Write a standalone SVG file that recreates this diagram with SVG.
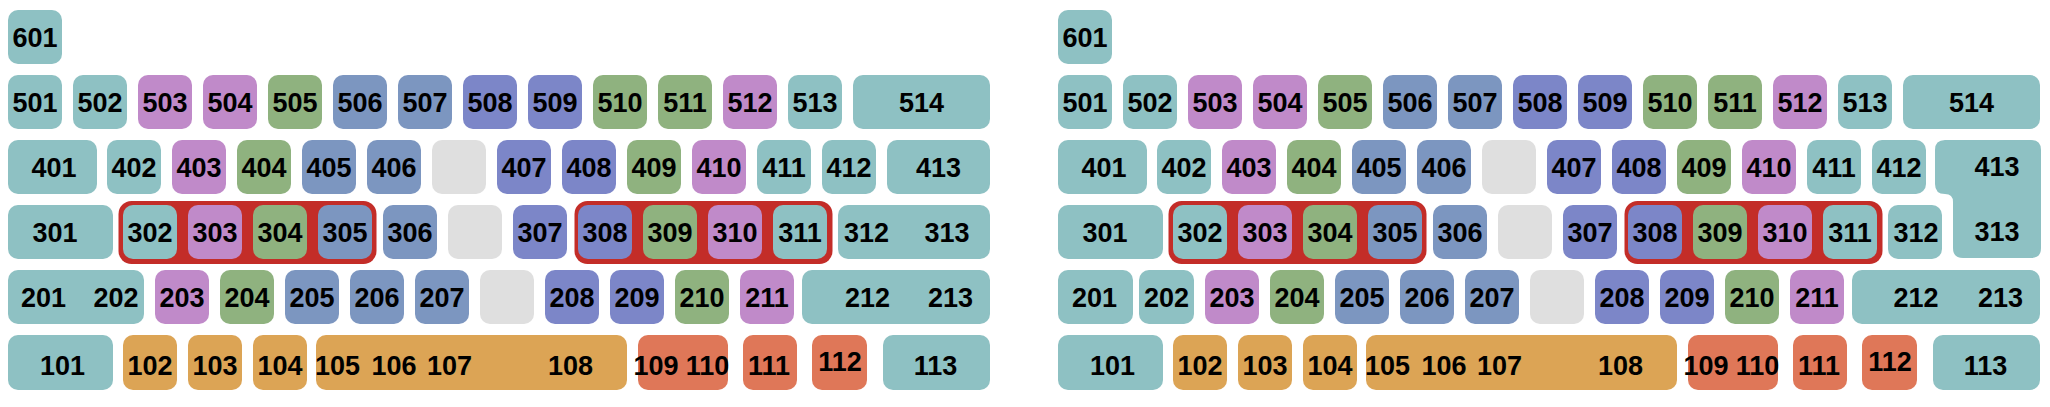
<svg xmlns="http://www.w3.org/2000/svg" width="2050" height="407" viewBox="0 0 2050 407">
<style>
rect.k{rx:10px;ry:10px}
.teal{fill:#8ec1c3}
.purple{fill:#c08ac9}
.green{fill:#8fb27f}
.slate{fill:#7c96c0}
.violet{fill:#7c86c8}
.gray{fill:#dfdfdf}
.orange{fill:#dca455}
.coral{fill:#df7758}
.sel{fill:#c32d28}
text{font-family:"Liberation Sans",Arial,sans-serif;font-weight:bold;font-size:27px;fill:#000;text-anchor:middle}
</style>
<rect width="2050" height="407" fill="#ffffff"/>
<g id="keyboard-left">
<g id="L-601"><rect class="k teal" x="8" y="10" width="54" height="54"/><text x="35" y="46.7">601</text></g>
<g id="L-501"><rect class="k teal" x="8" y="75" width="54" height="54"/><text x="35" y="111.7">501</text></g>
<g id="L-502"><rect class="k teal" x="73" y="75" width="54" height="54"/><text x="100" y="111.7">502</text></g>
<g id="L-503"><rect class="k purple" x="138" y="75" width="54" height="54"/><text x="165" y="111.7">503</text></g>
<g id="L-504"><rect class="k purple" x="203" y="75" width="54" height="54"/><text x="230" y="111.7">504</text></g>
<g id="L-505"><rect class="k green" x="268" y="75" width="54" height="54"/><text x="295" y="111.7">505</text></g>
<g id="L-506"><rect class="k slate" x="333" y="75" width="54" height="54"/><text x="360" y="111.7">506</text></g>
<g id="L-507"><rect class="k slate" x="398" y="75" width="54" height="54"/><text x="425" y="111.7">507</text></g>
<g id="L-508"><rect class="k violet" x="463" y="75" width="54" height="54"/><text x="490" y="111.7">508</text></g>
<g id="L-509"><rect class="k violet" x="528" y="75" width="54" height="54"/><text x="555" y="111.7">509</text></g>
<g id="L-510"><rect class="k green" x="593" y="75" width="54" height="54"/><text x="620" y="111.7">510</text></g>
<g id="L-511"><rect class="k green" x="658" y="75" width="54" height="54"/><text x="685" y="111.7">511</text></g>
<g id="L-512"><rect class="k purple" x="723" y="75" width="54" height="54"/><text x="750" y="111.7">512</text></g>
<g id="L-513"><rect class="k teal" x="788" y="75" width="54" height="54"/><text x="815" y="111.7">513</text></g>
<g id="L-514"><rect class="k teal" x="853" y="75" width="137" height="54"/><text x="921.5" y="111.7">514</text></g>

<g id="L-401"><rect class="k teal" x="8" y="140" width="89" height="54"/><text x="54" y="176.7">401</text></g>
<g id="L-402"><rect class="k teal" x="107" y="140" width="54" height="54"/><text x="134" y="176.7">402</text></g>
<g id="L-403"><rect class="k purple" x="172" y="140" width="54" height="54"/><text x="199" y="176.7">403</text></g>
<g id="L-404"><rect class="k green" x="237" y="140" width="54" height="54"/><text x="264" y="176.7">404</text></g>
<g id="L-405"><rect class="k slate" x="302" y="140" width="54" height="54"/><text x="329" y="176.7">405</text></g>
<g id="L-406"><rect class="k slate" x="367" y="140" width="54" height="54"/><text x="394" y="176.7">406</text></g>
<g id="L-blank4"><rect class="k gray" x="432" y="140" width="54" height="54"/></g>
<g id="L-407"><rect class="k violet" x="497" y="140" width="54" height="54"/><text x="524" y="176.7">407</text></g>
<g id="L-408"><rect class="k violet" x="562" y="140" width="54" height="54"/><text x="589" y="176.7">408</text></g>
<g id="L-409"><rect class="k green" x="627" y="140" width="54" height="54"/><text x="654" y="176.7">409</text></g>
<g id="L-410"><rect class="k purple" x="692" y="140" width="54" height="54"/><text x="719" y="176.7">410</text></g>
<g id="L-411"><rect class="k teal" x="757" y="140" width="54" height="54"/><text x="784" y="176.7">411</text></g>
<g id="L-412"><rect class="k teal" x="822" y="140" width="54" height="54"/><text x="849" y="176.7">412</text></g>
<g id="L-413"><rect class="k teal" x="887" y="140" width="103" height="54"/><text x="938.5" y="176.7">413</text></g>

<g id="L-group1"><rect class="sel" x="118.5" y="201" width="258" height="63" rx="13"/></g>
<g id="L-group2"><rect class="sel" x="574.5" y="201" width="258" height="63" rx="13"/></g>
<g id="L-301"><rect class="k teal" x="8" y="205" width="105" height="54"/><text x="55" y="241.7">301</text></g>
<g id="L-302"><rect class="k teal" x="123" y="205" width="54" height="54"/><text x="150" y="241.7">302</text></g>
<g id="L-303"><rect class="k purple" x="188" y="205" width="54" height="54"/><text x="215" y="241.7">303</text></g>
<g id="L-304"><rect class="k green" x="253" y="205" width="54" height="54"/><text x="280" y="241.7">304</text></g>
<g id="L-305"><rect class="k slate" x="318" y="205" width="54" height="54"/><text x="345" y="241.7">305</text></g>
<g id="L-306"><rect class="k slate" x="383" y="205" width="54" height="54"/><text x="410" y="241.7">306</text></g>
<g id="L-blank3"><rect class="k gray" x="448" y="205" width="54" height="54"/></g>
<g id="L-307"><rect class="k violet" x="513" y="205" width="54" height="54"/><text x="540" y="241.7">307</text></g>
<g id="L-308"><rect class="k violet" x="578" y="205" width="54" height="54"/><text x="605" y="241.7">308</text></g>
<g id="L-309"><rect class="k green" x="643" y="205" width="54" height="54"/><text x="670" y="241.7">309</text></g>
<g id="L-310"><rect class="k purple" x="708" y="205" width="54" height="54"/><text x="735" y="241.7">310</text></g>
<g id="L-311"><rect class="k teal" x="773" y="205" width="54" height="54"/><text x="800" y="241.7">311</text></g>
<g id="L-312-313"><rect class="k teal" x="838" y="205" width="152" height="54"/><text x="866.5" y="241.7">312</text><text x="947" y="241.7">313</text></g>

<g id="L-201-202"><rect class="k teal" x="8" y="270" width="136" height="54"/><text x="43.5" y="306.7">201</text><text x="116" y="306.7">202</text></g>
<g id="L-203"><rect class="k purple" x="155" y="270" width="54" height="54"/><text x="182" y="306.7">203</text></g>
<g id="L-204"><rect class="k green" x="220" y="270" width="54" height="54"/><text x="247" y="306.7">204</text></g>
<g id="L-205"><rect class="k slate" x="285" y="270" width="54" height="54"/><text x="312" y="306.7">205</text></g>
<g id="L-206"><rect class="k slate" x="350" y="270" width="54" height="54"/><text x="377" y="306.7">206</text></g>
<g id="L-207"><rect class="k slate" x="415" y="270" width="54" height="54"/><text x="442" y="306.7">207</text></g>
<g id="L-blank2"><rect class="k gray" x="480" y="270" width="54" height="54"/></g>
<g id="L-208"><rect class="k violet" x="545" y="270" width="54" height="54"/><text x="572" y="306.7">208</text></g>
<g id="L-209"><rect class="k violet" x="610" y="270" width="54" height="54"/><text x="637" y="306.7">209</text></g>
<g id="L-210"><rect class="k green" x="675" y="270" width="54" height="54"/><text x="702" y="306.7">210</text></g>
<g id="L-211"><rect class="k purple" x="740" y="270" width="54" height="54"/><text x="767" y="306.7">211</text></g>
<g id="L-212-213"><rect class="k teal" x="802" y="270" width="188" height="54"/><text x="867.5" y="306.7">212</text><text x="950.5" y="306.7">213</text></g>

<g id="L-101"><rect class="k teal" x="8" y="335" width="105" height="55"/><text x="62.5" y="375">101</text></g>
<g id="L-102"><rect class="k orange" x="123" y="335" width="54" height="55"/><text x="150" y="375">102</text></g>
<g id="L-103"><rect class="k orange" x="188" y="335" width="54" height="55"/><text x="215" y="375">103</text></g>
<g id="L-104"><rect class="k orange" x="253" y="335" width="54" height="55"/><text x="280" y="375">104</text></g>
<g id="L-105-108"><rect class="k orange" x="316" y="335" width="311" height="55"/><text x="337.5" y="375">105</text><text x="394" y="375">106</text><text x="449.5" y="375">107</text><text x="570.5" y="375">108</text></g>
<g id="L-109-110"><rect class="k coral" x="638" y="335" width="90" height="55"/><text x="656" y="375">109</text><text x="707.5" y="375">110</text></g>
<g id="L-111"><rect class="k coral" x="743" y="335" width="54" height="55"/><text x="769" y="375">111</text></g>
<g id="L-112"><rect class="k coral" x="812" y="335" width="55" height="55"/><text x="840" y="371">112</text></g>
<g id="L-113"><rect class="k teal" x="883" y="335" width="107" height="55"/><text x="935.5" y="375">113</text></g>
</g>

<g id="keyboard-right" transform="translate(1050,0)">
<g id="R-601"><rect class="k teal" x="8" y="10" width="54" height="54"/><text x="35" y="46.7">601</text></g>
<g id="R-501"><rect class="k teal" x="8" y="75" width="54" height="54"/><text x="35" y="111.7">501</text></g>
<g id="R-502"><rect class="k teal" x="73" y="75" width="54" height="54"/><text x="100" y="111.7">502</text></g>
<g id="R-503"><rect class="k purple" x="138" y="75" width="54" height="54"/><text x="165" y="111.7">503</text></g>
<g id="R-504"><rect class="k purple" x="203" y="75" width="54" height="54"/><text x="230" y="111.7">504</text></g>
<g id="R-505"><rect class="k green" x="268" y="75" width="54" height="54"/><text x="295" y="111.7">505</text></g>
<g id="R-506"><rect class="k slate" x="333" y="75" width="54" height="54"/><text x="360" y="111.7">506</text></g>
<g id="R-507"><rect class="k slate" x="398" y="75" width="54" height="54"/><text x="425" y="111.7">507</text></g>
<g id="R-508"><rect class="k violet" x="463" y="75" width="54" height="54"/><text x="490" y="111.7">508</text></g>
<g id="R-509"><rect class="k violet" x="528" y="75" width="54" height="54"/><text x="555" y="111.7">509</text></g>
<g id="R-510"><rect class="k green" x="593" y="75" width="54" height="54"/><text x="620" y="111.7">510</text></g>
<g id="R-511"><rect class="k green" x="658" y="75" width="54" height="54"/><text x="685" y="111.7">511</text></g>
<g id="R-512"><rect class="k purple" x="723" y="75" width="54" height="54"/><text x="750" y="111.7">512</text></g>
<g id="R-513"><rect class="k teal" x="788" y="75" width="54" height="54"/><text x="815" y="111.7">513</text></g>
<g id="R-514"><rect class="k teal" x="853" y="75" width="137" height="54"/><text x="921.5" y="111.7">514</text></g>

<g id="R-401"><rect class="k teal" x="8" y="140" width="89" height="54"/><text x="54" y="176.7">401</text></g>
<g id="R-402"><rect class="k teal" x="107" y="140" width="54" height="54"/><text x="134" y="176.7">402</text></g>
<g id="R-403"><rect class="k purple" x="172" y="140" width="54" height="54"/><text x="199" y="176.7">403</text></g>
<g id="R-404"><rect class="k green" x="237" y="140" width="54" height="54"/><text x="264" y="176.7">404</text></g>
<g id="R-405"><rect class="k slate" x="302" y="140" width="54" height="54"/><text x="329" y="176.7">405</text></g>
<g id="R-406"><rect class="k slate" x="367" y="140" width="54" height="54"/><text x="394" y="176.7">406</text></g>
<g id="R-blank4"><rect class="k gray" x="432" y="140" width="54" height="54"/></g>
<g id="R-407"><rect class="k violet" x="497" y="140" width="54" height="54"/><text x="524" y="176.7">407</text></g>
<g id="R-408"><rect class="k violet" x="562" y="140" width="54" height="54"/><text x="589" y="176.7">408</text></g>
<g id="R-409"><rect class="k green" x="627" y="140" width="54" height="54"/><text x="654" y="176.7">409</text></g>
<g id="R-410"><rect class="k purple" x="692" y="140" width="54" height="54"/><text x="719" y="176.7">410</text></g>
<g id="R-411"><rect class="k teal" x="757" y="140" width="54" height="54"/><text x="784" y="176.7">411</text></g>
<g id="R-412"><rect class="k teal" x="822" y="140" width="54" height="54"/><text x="849" y="176.7">412</text></g>
<g id="R-413-313"><path class="teal" d="M895,140 H981 Q991,140 991,150 V248 Q991,258 981,258 H913 Q903,258 903,248 V202 Q903,194 895,194 Q885,194 885,184 V150 Q885,140 895,140 Z"/><text x="947" y="175.7">413</text><text x="947" y="241">313</text></g>

<g id="R-group1"><rect class="sel" x="118.5" y="201" width="258" height="63" rx="13"/></g>
<g id="R-group2"><rect class="sel" x="574.5" y="201" width="258" height="63" rx="13"/></g>
<g id="R-301"><rect class="k teal" x="8" y="205" width="105" height="54"/><text x="55" y="241.7">301</text></g>
<g id="R-302"><rect class="k teal" x="123" y="205" width="54" height="54"/><text x="150" y="241.7">302</text></g>
<g id="R-303"><rect class="k purple" x="188" y="205" width="54" height="54"/><text x="215" y="241.7">303</text></g>
<g id="R-304"><rect class="k green" x="253" y="205" width="54" height="54"/><text x="280" y="241.7">304</text></g>
<g id="R-305"><rect class="k slate" x="318" y="205" width="54" height="54"/><text x="345" y="241.7">305</text></g>
<g id="R-306"><rect class="k slate" x="383" y="205" width="54" height="54"/><text x="410" y="241.7">306</text></g>
<g id="R-blank3"><rect class="k gray" x="448" y="205" width="54" height="54"/></g>
<g id="R-307"><rect class="k violet" x="513" y="205" width="54" height="54"/><text x="540" y="241.7">307</text></g>
<g id="R-308"><rect class="k violet" x="578" y="205" width="54" height="54"/><text x="605" y="241.7">308</text></g>
<g id="R-309"><rect class="k green" x="643" y="205" width="54" height="54"/><text x="670" y="241.7">309</text></g>
<g id="R-310"><rect class="k purple" x="708" y="205" width="54" height="54"/><text x="735" y="241.7">310</text></g>
<g id="R-311"><rect class="k teal" x="773" y="205" width="54" height="54"/><text x="800" y="241.7">311</text></g>
<g id="R-312"><rect class="k teal" x="838" y="205" width="54" height="54"/><text x="866" y="241.7">312</text></g>

<g id="R-201"><rect class="k teal" x="8" y="270" width="75" height="54"/><text x="44.5" y="306.7">201</text></g>
<g id="R-202"><rect class="k teal" x="89" y="270" width="55" height="54"/><text x="116.5" y="306.7">202</text></g>
<g id="R-203"><rect class="k purple" x="155" y="270" width="54" height="54"/><text x="182" y="306.7">203</text></g>
<g id="R-204"><rect class="k green" x="220" y="270" width="54" height="54"/><text x="247" y="306.7">204</text></g>
<g id="R-205"><rect class="k slate" x="285" y="270" width="54" height="54"/><text x="312" y="306.7">205</text></g>
<g id="R-206"><rect class="k slate" x="350" y="270" width="54" height="54"/><text x="377" y="306.7">206</text></g>
<g id="R-207"><rect class="k slate" x="415" y="270" width="54" height="54"/><text x="442" y="306.7">207</text></g>
<g id="R-blank2"><rect class="k gray" x="480" y="270" width="54" height="54"/></g>
<g id="R-208"><rect class="k violet" x="545" y="270" width="54" height="54"/><text x="572" y="306.7">208</text></g>
<g id="R-209"><rect class="k violet" x="610" y="270" width="54" height="54"/><text x="637" y="306.7">209</text></g>
<g id="R-210"><rect class="k green" x="675" y="270" width="54" height="54"/><text x="702" y="306.7">210</text></g>
<g id="R-211"><rect class="k purple" x="740" y="270" width="54" height="54"/><text x="767" y="306.7">211</text></g>
<g id="R-212-213"><rect class="k teal" x="802" y="270" width="188" height="54"/><text x="866" y="306.7">212</text><text x="950.5" y="306.7">213</text></g>

<g id="R-101"><rect class="k teal" x="8" y="335" width="105" height="55"/><text x="62.5" y="375">101</text></g>
<g id="R-102"><rect class="k orange" x="123" y="335" width="54" height="55"/><text x="150" y="375">102</text></g>
<g id="R-103"><rect class="k orange" x="188" y="335" width="54" height="55"/><text x="215" y="375">103</text></g>
<g id="R-104"><rect class="k orange" x="253" y="335" width="54" height="55"/><text x="280" y="375">104</text></g>
<g id="R-105-108"><rect class="k orange" x="316" y="335" width="311" height="55"/><text x="337.5" y="375">105</text><text x="394" y="375">106</text><text x="449.5" y="375">107</text><text x="570.5" y="375">108</text></g>
<g id="R-109-110"><rect class="k coral" x="638" y="335" width="90" height="55"/><text x="656" y="375">109</text><text x="707.5" y="375">110</text></g>
<g id="R-111"><rect class="k coral" x="743" y="335" width="54" height="55"/><text x="769" y="375">111</text></g>
<g id="R-112"><rect class="k coral" x="812" y="335" width="55" height="55"/><text x="840" y="371">112</text></g>
<g id="R-113"><rect class="k teal" x="883" y="335" width="107" height="55"/><text x="935.5" y="375">113</text></g>
</g>
</svg>
